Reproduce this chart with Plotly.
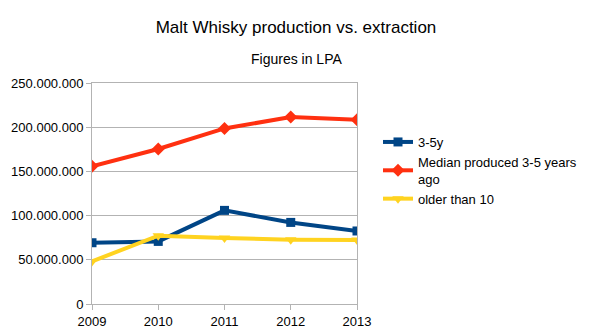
import plotly.graph_objects as go

years = [2009, 2010, 2011, 2012, 2013]
young_3_5y = [69300000, 70800000, 105900000, 92300000, 82600000]
median_3_5_ago = [155700000, 175300000, 198600000, 211500000, 208500000]
older_than_10 = [48200000, 77300000, 74600000, 72700000, 72400000]
y_ticks = [0, 50000000, 100000000, 150000000, 200000000, 250000000]

FONT = "Liberation Sans, Arial, sans-serif"
W, H = 592, 333
M_L, M_R, M_T, M_B = 92, 235, 83, 29
plot_h = H - M_T - M_B

fig = go.Figure()
fig.add_trace(go.Scatter(
    x=years, y=young_3_5y, name="3-5y", mode="lines+markers",
    line=dict(color="#004586", width=4),
    marker=dict(symbol="square", size=9, color="#004586"),
))
fig.add_trace(go.Scatter(
    x=years, y=median_3_5_ago, name="Median produced 3-5 years<br>ago", mode="lines+markers",
    line=dict(color="#ff3010", width=4),
    marker=dict(symbol="diamond", size=10, color="#ff3010"),
))
fig.add_trace(go.Scatter(
    x=years, y=older_than_10, name="older than 10", mode="lines+markers",
    line=dict(color="#ffd320", width=4),
    marker=dict(symbol="triangle-down", size=10, color="#ffd320"),
))

fig.update_layout(
    width=W, height=H,
    margin=dict(l=M_L, r=M_R, t=M_T, b=M_B, autoexpand=False),
    paper_bgcolor="white", plot_bgcolor="white",
    separators=",.",
    font=dict(family=FONT, size=13, color="#000000"),
    title=dict(text="Malt Whisky production vs. extraction", x=0.5, xref="container",
               xanchor="center", y=1 - 27 / H, yanchor="middle",
               font=dict(size=17)),
    annotations=[dict(text="Figures in LPA", xref="paper", yref="paper",
                      x=(W / 2 - M_L) / (W - M_L - M_R),
                      y=(H - M_B - 59) / plot_h,
                      xanchor="center", yanchor="middle",
                      showarrow=False, font=dict(size=14))],
    showlegend=True,
    legend=dict(xref="container", yref="container", x=378 / W, y=1 - 127 / H,
                xanchor="left", yanchor="top",
                font=dict(size=13), tracegroupgap=0, itemwidth=30,
                bgcolor="rgba(0,0,0,0)"),
)

fig.update_xaxes(
    range=[2009, 2013], tickvals=years, showgrid=False, automargin=False,
    showline=True, linecolor="#b3b3b3", linewidth=1, mirror=True,
    ticks="outside", ticklen=5, tickcolor="#b3b3b3", zeroline=False,
)
fig.update_yaxes(
    range=[0, 250000000], tickvals=y_ticks, tickformat=",d", automargin=False,
    showgrid=True, gridcolor="#b3b3b3", gridwidth=1,
    showline=True, linecolor="#b3b3b3", linewidth=1, mirror=True,
    ticks="outside", ticklen=5, tickcolor="#b3b3b3", zeroline=False,
)

fig.write_html("out.html")
